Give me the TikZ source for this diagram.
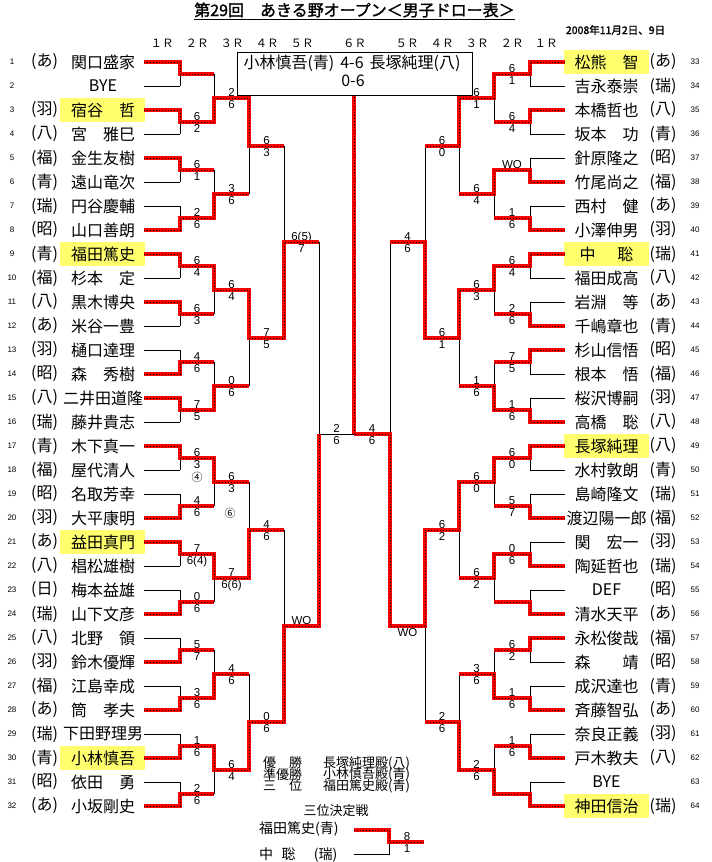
\documentclass[tikz,border=0pt]{standalone}
\usepackage{fontspec}
\setmainfont{Noto Sans CJK JP}
\newfontfamily\jpb[FakeBold=1.5]{Noto Sans CJK JP}
\newfontfamily\lsans{Liberation Sans}
\pgfdeclarelayer{top}
\pgfsetlayers{main,top}
\definecolor{hlyel}{RGB}{255,255,110}
\tikzset{
  lose/.style={draw=black,line width=1pt},
  win/.style={draw=red,line width=4pt,line join=miter,line cap=butt,
     postaction={draw=black,line width=0.9pt,line cap=butt,dash pattern=on 0.9pt off 2.1pt}},
  nm/.style={inner sep=0pt,font=\fontsize{16}{16}\selectfont},
  num/.style={inner sep=0pt,font=\lsans\fontsize{8}{8}\selectfont},
  sc/.style={inner sep=0pt,font=\lsans\fontsize{11.5}{11.5}\selectfont},
  hdr/.style={inner sep=0pt,font=\fontsize{11.5}{11.5}\selectfont},
  res/.style={inner sep=0pt,anchor=west,font=\fontsize{13}{13}\selectfont},
}
\def\LXarr{{144,180,214,249,284,319,354}}
\def\RXarr{{565,530,494,459,425,390,354}}
\newcommand\bround[4]{%
\foreach \w/\ta/\tb [count=\m] in {#4}{%
  \pgfmathtruncatemacro\rp{#2-1}%
  \pgfmathsetmacro\xs{#3[#2]}%
  \pgfmathsetmacro\xe{#3[#2+1]}%
  \pgfmathsetmacro\xm{(\xs+\xe)/2}%
  \pgfmathsetmacro\yy{62+24*((\m-1)*2^#2+(2^#2-1)/2)}%
  \pgfmathtruncatemacro\ct{2*\m-1}%
  \pgfmathtruncatemacro\cb{2*\m}%
  \if\w t\edef\wc{\ct}\else\edef\wc{\cb}\fi
  \coordinate (#1#2-\m-s) at (\xs,\yy);
  \coordinate (#1#2-\m-e) at (\xe,\yy);
  \draw[lose] (#1\rp-\ct-e) -- (#1\rp-\cb-e);
  \draw[lose] (#1#2-\m-s) -- (#1#2-\m-e);
  \node[sc,anchor=base] (#1#2-\m-ta) at (\xm,\yy-1.5) {\ta};
  \node[sc,anchor=base] (#1#2-\m-tb) at (\xm,\yy+10.5) {\tb};
  \begin{pgfonlayer}{top}
  \draw[win] (#1\rp-\wc-s) -- (#1\rp-\wc-e) -- (#1#2-\m-s) -- (#1#2-\m-e);
  \end{pgfonlayer}
}}
\begin{document}
\begin{tikzpicture}[x=1pt,y=-1pt]
\fill[white] (0,0) rectangle (712,862);
\useasboundingbox (0,0) rectangle (712,862);
% title
\node[inner sep=0pt,font=\jpb\fontsize{16}{16}\selectfont] (title) at (354.5,10) {第29回　あきる野オープン＜男子ドロー表＞};
\draw[line width=1pt] ([yshift=-3pt]title.base west) -- ([yshift=-3pt]title.base east);
\node[inner sep=0pt,font=\jpb\fontsize{10.5}{10.5}\selectfont] (date) at (615.5,30) {2008年11月2日、9日};
% round headers
\foreach \hx/\hlab [count=\k] in {162/１Ｒ,197/２Ｒ,232/３Ｒ,267/４Ｒ,302/５Ｒ,354.5/６Ｒ,407/５Ｒ,442/４Ｒ,477/３Ｒ,512/２Ｒ,546/１Ｒ}{
  \node[hdr] (hd\k) at (\hx,43) {\hlab};
}
% left players
\foreach \nm/\pf/\hl [count=\i] in {関口盛家/{(あ)}/0,BYE/{}/0,宿谷　哲/{(羽)}/1,宮　雅巳/{(八)}/0,金生友樹/{(福)}/0,遠山竜次/{(青)}/0,円谷慶輔/{(瑞)}/0,山口善朗/{(昭)}/0,福田篤史/{(青)}/1,杉本　定/{(福)}/0,黒木博央/{(八)}/0,米谷一豊/{(あ)}/0,樋口達理/{(羽)}/0,森　秀樹/{(昭)}/0,二井田道隆/{(八)}/0,藤井貴志/{(瑞)}/0,木下真一/{(青)}/0,屋代清人/{(福)}/0,名取芳幸/{(昭)}/0,大平康明/{(羽)}/0,益田真門/{(あ)}/1,椙松雄樹/{(八)}/0,梅本益雄/{(日)}/0,山下文彦/{(瑞)}/0,北野　領/{(八)}/0,鈴木優輝/{(羽)}/0,江島幸成/{(福)}/0,筒　孝夫/{(あ)}/0,下田野理男/{(瑞)}/0,小林慎吾/{(青)}/1,依田　勇/{(昭)}/0,小坂剛史/{(あ)}/0}{
  \pgfmathsetmacro\yy{62+24*(\i-1)}
  \ifnum\hl=1 \fill[hlyel] (60,\yy-12) rectangle (145,\yy+12); \fi
  \coordinate (L0-\i-s) at (144,\yy);
  \coordinate (L0-\i-e) at (180,\yy);
  \draw[lose] (L0-\i-s) -- (L0-\i-e);
  \node[nm] (Ln\i) at (103,\yy) {\nm};
  \node[nm] (Lp\i) at (44.5,\yy) {\pf};
  \node[num] (Li\i) at (12,\yy) {\i};
}
% right players
\foreach \nm/\pf/\hl [count=\i] in {松熊　智/{(あ)}/1,吉永泰崇/{(瑞)}/0,本橋哲也/{(八)}/0,坂本　功/{(青)}/0,針原隆之/{(昭)}/0,竹尾尚之/{(福)}/0,西村　健/{(あ)}/0,小澤伸男/{(羽)}/0,{中\hspace{1.35em}聡}/{(瑞)}/1,福田成高/{(八)}/0,岩淵　等/{(あ)}/0,千嶋章也/{(青)}/0,杉山信悟/{(昭)}/0,根本　悟/{(福)}/0,桜沢博嗣/{(羽)}/0,高橋　聡/{(八)}/0,長塚純理/{(八)}/1,水村敦朗/{(青)}/0,島崎隆文/{(瑞)}/0,渡辺陽一郎/{(福)}/0,関　宏一/{(羽)}/0,陶延哲也/{(瑞)}/0,DEF/{(昭)}/0,清水天平/{(あ)}/0,永松俊哉/{(福)}/0,森　　靖/{(昭)}/0,成沢達也/{(青)}/0,斉藤智弘/{(あ)}/0,奈良正義/{(羽)}/0,戸木教夫/{(八)}/0,BYE/{}/0,神田信治/{(瑞)}/1}{
  \pgfmathsetmacro\yy{62+24*(\i-1)}
  \pgfmathtruncatemacro\jj{\i+32}
  \ifnum\hl=1 \fill[hlyel] (564,\yy-12) rectangle (649,\yy+12); \fi
  \coordinate (R0-\i-s) at (565,\yy);
  \coordinate (R0-\i-e) at (530,\yy);
  \draw[lose] (R0-\i-s) -- (R0-\i-e);
  \node[nm] (Rn\i) at (606.5,\yy) {\nm};
  \node[nm] (Rp\i) at (663,\yy) {\pf};
  \node[num] (Ri\i) at (695,\yy) {\jj};
}
% left rounds
\bround{L}{1}{\LXarr}{t/{}/{},t/6/2,t/6/1,b/2/6,t/6/4,t/6/3,b/4/6,t/7/5,t/6/3,b/4/6,t/7/{6(4)},b/0/6,b/5/7,b/3/6,b/1/6,b/2/6}
\bround{L}{2}{\LXarr}{b/2/6,b/3/6,t/6/4,b/0/6,t/6/3,t/7/{6(6)},b/4/6,t/6/4}
\bround{L}{3}{\LXarr}{t/6/3,t/7/5,b/4/6,b/0/6}
\bround{L}{4}{\LXarr}{b/{6(5)}/7,b/WO/{}}
% right rounds
\bround{R}{1}{\RXarr}{t/6/1,t/6/4,b/WO/{},b/1/6,t/6/4,b/2/6,t/7/5,b/1/6,t/6/0,b/5/7,b/0/6,b/{}/{},t/6/2,b/1/6,b/1/6,b/{}/{}}
\bround{R}{2}{\RXarr}{t/6/1,t/6/4,t/6/3,b/1/6,t/6/0,t/6/2,b/3/6,b/2/6}
\bround{R}{3}{\RXarr}{t/6/0,t/6/1,t/6/2,b/2/6}
\bround{R}{4}{\RXarr}{b/4/6,t/{}/WO}
\bround{R}{5}{\RXarr}{b/4/6}
% extra marks
\node[sc,font=\fontsize{11}{11}\selectfont] (c4) at (197,477) {④};
\node[sc,font=\fontsize{11}{11}\selectfont] (c6) at (230,513) {⑥};
% left semifinal
\coordinate (L5-1-s) at (319,434);
\coordinate (L5-1-e) at (354,434);
\draw[lose] (L4-1-e) -- (L4-2-e);
\draw[lose] (L5-1-s) -- (L5-1-e);
\node[sc,anchor=base] (L5-1-ta) at (336.5,432.5) {2};
\node[sc,anchor=base] (L5-1-tb) at (336.5,444.5) {6};
\begin{pgfonlayer}{top}
\draw[win] (L4-2-s) -- (L4-2-e) -- (L5-1-s);
\end{pgfonlayer}
% final box
\node[draw,line width=1pt,minimum width=235pt,minimum height=43pt,inner sep=0pt] (box) at (354.5,73.5) {};
\node[nm] (bx1) at (352,63) {小林慎吾(青)\hspace{6pt}4-6\hspace{6pt}長塚純理(八)};
\node[nm] (bx2) at (353,81) {0-6};
\begin{pgfonlayer}{top}
\draw[win] (R5-1-e) -- (R5-1-e |- box.south);
\end{pgfonlayer}
% results
\node[res] (r1a) at (263,763) {優　勝};
\node[res] (r1b) at (323,763) {長塚純理殿(八)};
\node[res] (r2a) at (263,774.5) {準優勝};
\node[res] (r2b) at (323,774.5) {小林慎吾殿(青)};
\node[res] (r3a) at (263,786) {三　位};
\node[res] (r3b) at (323,786) {福田篤史殿(青)};
\node[inner sep=0pt,font=\fontsize{13}{13}\selectfont] (tp) at (336,811) {三位決定戦};
\node[inner sep=0pt,anchor=west,font=\fontsize{14}{14}\selectfont] (tpa) at (259,829) {福田篤史(青)};
\node[inner sep=0pt,anchor=west,font=\fontsize{14}{14}\selectfont] (tpb) at (259,855) {中\hspace{0.6em}聡\hspace{1.3em}(瑞)};
\coordinate (t1s) at (354,830);
\coordinate (t1e) at (389,830);
\coordinate (t2s) at (354,854);
\coordinate (t2e) at (389,854);
\coordinate (tj) at (389,842);
\coordinate (te) at (424,842);
\draw[lose] (t2s) -- (t2e) -- (tj);
\draw[win] (t1s) -- (t1e) -- (tj) -- (te);
\node[sc,anchor=base] (tpx) at (407,840.5) {8};
\node[sc,anchor=base] (tpy) at (407,852.5) {1};
\end{tikzpicture}
\end{document}
